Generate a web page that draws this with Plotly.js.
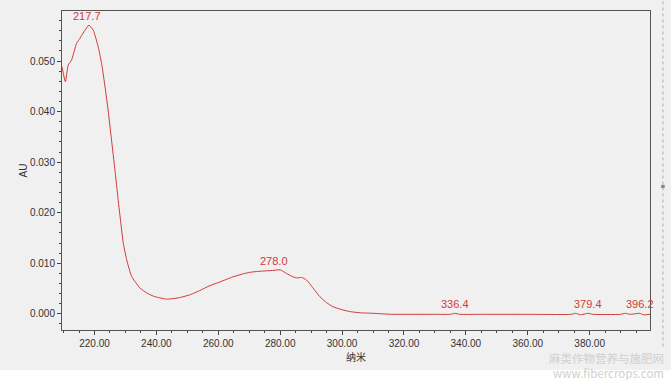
<!DOCTYPE html>
<html>
<head>
<meta charset="utf-8">
<script src="https://cdn.plot.ly/plotly-3.0.1.min.js"></script>
<style>html,body{margin:0;padding:0;background:#fff;}#chart{width:671px;height:380px;}</style>
</head>
<body>
<div id="chart"></div>
<script>
const wavelength = [209.5, 210.6, 211.5, 212.6, 214.2, 215.3, 216.9, 218.2, 219.6, 221.2, 222.3, 223.4, 224.4, 225.5, 226.6, 227.6, 228.5, 229.3, 230.4, 232.0, 234.7, 237.0, 239.0, 243.3, 247.5, 251.0, 254.0, 257.0, 260.5, 264.7, 268.0, 270.1, 273.0, 275.5, 278.0, 280.0, 282.0, 284.2, 285.5, 286.9, 288.5, 290.5, 292.8, 295.0, 297.1, 300.0, 303.0, 306.0, 310.0, 316.0, 320.0, 330.0, 335.0, 336.4, 338.0, 345.0, 360.0, 374.0, 375.5, 377.0, 379.4, 381.0, 390.0, 391.5, 393.0, 396.2, 397.5, 399.5];
const absorbance = [0.0489, 0.0459, 0.0492, 0.0502, 0.0535, 0.0545, 0.0561, 0.0571, 0.0561, 0.0528, 0.0495, 0.0449, 0.0403, 0.0344, 0.0285, 0.0228, 0.0180, 0.0140, 0.0107, 0.0074, 0.0051, 0.0041, 0.0035, 0.0029, 0.0032, 0.0038, 0.0046, 0.0055, 0.0063, 0.0073, 0.0079, 0.0082, 0.0084, 0.0085, 0.0086, 0.0087, 0.0080, 0.0073, 0.0071, 0.0072, 0.0067, 0.0052, 0.0034, 0.0022, 0.0014, 0.0008, 0.0004, 0.0002, 0.0001, -0.0001, -0.0001, -0.0001, -0.0001, 0.0001, -0.0001, -0.0001, -0.0001, -0.0001, 0.0001, -0.0002, 0.0001, -0.0001, -0.0001, 0.0001, -0.0001, 0.0001, -0.0002, -0.0001];
const peakX = [217.7, 278.0, 336.4, 379.4, 396.2];
const peakY = [0.0571, 0.0087, 0.0001, 0.0001, 0.0001];
const peakLabels = ["217.7", "278.0", "336.4", "379.4", "396.2"];
const xTitle = "纳米";
const yTitle = "AU";
const watermark = ["麻类作物营养与施肥网", "www.fibercrops.com"];

const red = "#d23a3a";
const annotations = peakX.map((x, i) => ({
  x: x, y: peakY[i], xref: "x", yref: "y", text: peakLabels[i], showarrow: false,
  yanchor: "bottom", yshift: 1, font: {family: "Liberation Sans, Arial", size: 11, color: red}
}));
annotations.push({xref: "paper", yref: "paper", x: 1.025, y: -0.11, xanchor: "right", yanchor: "middle",
  align: "right", text: watermark[0] + "<br>" + watermark[1], showarrow: false, borderpad: 0,
  font: {family: "Noto Sans CJK SC, DejaVu Sans", size: 11.5, color: "#cfcfcf"}});

const trace = {x: wavelength, y: absorbance, type: "scatter", mode: "lines",
  line: {color: red, width: 1, shape: "spline", smoothing: 0.5}, hoverinfo: "skip"};

const axisFont = {family: "Liberation Sans, Arial", size: 10, color: "#333"};
const layout = {
  width: 671, height: 380,
  margin: {l: 62, r: 21, t: 11, b: 50},
  paper_bgcolor: "#f0f0f0", plot_bgcolor: "#f0f0f0",
  showlegend: false,
  xaxis: {range: [209.5, 399.5], dtick: 20, tick0: 200, tickformat: ".2f",
    ticks: "outside", ticklen: 4, tickcolor: "#444", showgrid: false, zeroline: false,
    showline: true, linecolor: "#555", linewidth: 1, mirror: true, tickfont: axisFont,
    minor: {dtick: 5, ticks: "outside", ticklen: 2, tickcolor: "#444", showgrid: false},
    title: {text: xTitle, font: {family: "Noto Sans CJK SC", size: 10, color: "#333"}, standoff: 4}},
  yaxis: {range: [-0.0032, 0.0599], dtick: 0.01, tick0: 0, tickformat: ".3f",
    ticks: "outside", ticklen: 4, tickcolor: "#444", showgrid: false, zeroline: false,
    showline: true, linecolor: "#555", linewidth: 1, mirror: true, tickfont: axisFont,
    minor: {dtick: 0.002, ticks: "outside", ticklen: 2, tickcolor: "#444", showgrid: false},
    title: {text: yTitle, font: {family: "Liberation Sans, Arial", size: 10, color: "#333"}, standoff: 0}},
  annotations: annotations,
  shapes: [
    {type: "line", xref: "paper", yref: "paper", x0: 1.022, x1: 1.022, y0: 1.03, y1: -0.06,
     line: {color: "#aaa", width: 1, dash: "dot"}},
    {type: "rect", xref: "paper", yref: "paper", x0: 1.019, x1: 1.025, y0: 0.445, y1: 0.455,
     fillcolor: "#888", line: {width: 0}},
    {type: "rect", xref: "paper", yref: "paper", x0: -0.2, x1: 1.1, y0: -0.125, y1: -0.2,
     fillcolor: "#ffffff", line: {width: 0}, layer: "below"}
  ]
};
Plotly.newPlot("chart", [trace], layout, {staticPlot: true, displayModeBar: false});
</script>
</body>
</html>
